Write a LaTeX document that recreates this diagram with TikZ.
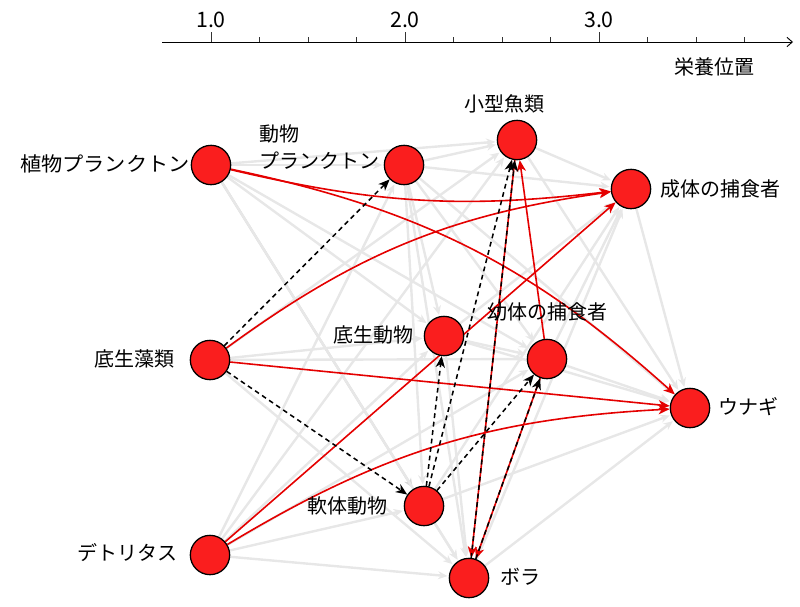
\documentclass[tikz,border=0pt]{standalone}
\usepackage{fontspec}
\newfontfamily\jpfont{Noto Sans CJK JP}
\usetikzlibrary{arrows.meta,backgrounds}
\definecolor{nodered}{RGB}{250,30,30}
\definecolor{edgered}{RGB}{228,0,0}
\definecolor{webgray}{RGB}{231,231,231}
\definecolor{webdark}{RGB}{215,215,215}
\begin{document}
\begin{tikzpicture}[x=0.75pt,y=-0.75pt,
  sp/.style={circle,draw=black,line width=0.95pt,fill=nodered,minimum size=29.5pt,inner sep=0pt},
  lbl/.style={font=\jpfont\fontsize{15}{20}\selectfont,inner sep=0pt,text=black},
  num/.style={font=\jpfont\fontsize{16}{20}\selectfont,inner sep=0pt,text=black},
  web/.style={draw=webgray,line width=1.8pt,-{Stealth[length=7pt,width=6pt]},shorten >=1pt},
  webd/.style={web,draw=webdark},
  hot/.style={draw=edgered,line width=1.2pt,-{Stealth[length=8.5pt,width=7pt,inset=2.5pt]}},
  dsh/.style={draw=black,line width=1.15pt,dash pattern=on 3.6pt off 2.8pt,-{Stealth[length=8.5pt,width=7pt,inset=2.5pt]}},
  axisline/.style={draw=black,line width=0.7pt,-{Straight Barb[length=4pt,width=7pt]}},
  tickmark/.style={draw=black!80,line width=0.6pt}
]
\useasboundingbox (0,0) rectangle (800,607);

% axis
\coordinate (ax0) at (162,42);
\coordinate (ax1) at (793,42);
\draw[axisline] (ax0) -- (ax1);
\foreach \k in {0,...,11} {
  \draw[tickmark] ({211+48.5*\k},42) -- ({211+48.5*\k},37);
}
\foreach \k in {0,4,8} {
  \draw[tickmark] ({211+48.5*\k},42) -- ({211+48.5*\k},32);
}
\node[num] (n1) at (211,20) {1.0};
\node[num] (n2) at (405,20) {2.0};
\node[num] (n3) at (599,20) {3.0};
\node[lbl] (tAx) at (714,67) {栄養位置};

% species nodes
\node[sp] (P)  at (211,165) {};
\node[sp] (Z)  at (404,165) {};
\node[sp] (S)  at (517,140) {};
\node[sp] (A)  at (631,189) {};
\node[sp] (B)  at (210,360) {};
\node[sp] (BA) at (444,336) {};
\node[sp] (J)  at (547,359) {};
\node[sp] (E)  at (690,408) {};
\node[sp] (M)  at (424,506) {};
\node[sp] (D)  at (210,555) {};
\node[sp] (L)  at (469,578) {};

% labels
\node[lbl,anchor=east,xscale=1.06] (tP) at (190,164) {植物プランクトン};
\node[lbl,anchor=west,align=left] (tZ) at (259,147) {動物\\プランクトン};
\node[lbl] (tS) at (504,104) {小型魚類};
\node[lbl,anchor=west] (tA) at (660,189) {成体の捕食者};
\node[lbl,anchor=east] (tB) at (175,359) {底生藻類};
\node[lbl,anchor=east] (tBA) at (414,335) {底生動物};
\node[lbl] (tJ) at (547,312) {幼体の捕食者};
\node[lbl,anchor=west] (tE) at (718,407) {ウナギ};
\node[lbl,anchor=east] (tM) at (388,506) {軟体動物};
\node[lbl,anchor=east] (tD) at (178,553) {デトリタス};
\node[lbl,anchor=west] (tL) at (500,577) {ボラ};

\begin{scope}[on background layer]
% gray food web
\draw[web] (P) -- (Z);
\draw[web] (P) -- (S);
\draw[web] (P) -- (BA);
\draw[web] (P) -- (J);
\draw[webd] (P) -- (M);
\draw[web] (P) -- (L);
\draw[web] (Z) -- (S);
\draw[web] (Z) -- (A);
\draw[web] (Z) -- (BA);
\draw[web] (Z) -- (J);
\draw[web] (Z) -- (M);
\draw[web] (Z) -- (L);
\draw[web] (Z) -- (E);
\draw[web] (B) -- (S);
\draw[web] (B) -- (BA);
\draw[web] (B) -- (J);
\draw[web] (B) -- (L);
\draw[web] (D) -- (Z);
\draw[web] (D) -- (S);
\draw[web] (D) -- (BA);
\draw[web] (D) -- (M);
\draw[web] (D) -- (L);
\draw[web] (D) -- (J);
\draw[web] (BA) -- (J);
\draw[web] (BA) -- (A);
\draw[web] (BA) -- (E);
\draw[web] (BA) -- (L);
\draw[web] (M) -- (L);
\draw[web] (M) -- (A);
\draw[web] (M) -- (E);
\draw[web] (J) -- (A);
\draw[web] (J) -- (E);
\draw[web] (S) -- (A);
\draw[web] (S) -- (E);
\draw[web] (L) -- (A);
\draw[web] (L) -- (E);
\draw[web] (A) -- (E);

% highlighted (red) links
\draw[hot] (P) to[bend right=10] (A);
\draw[hot] (P) to[bend left=15] (E);
\draw[hot] (B) to[bend left=14] (A);
\draw[hot] (B) -- (E);
\draw[hot] (D) -- (A);
\draw[hot] (D) to[bend left=14] (E);
\draw[hot] (J) -- (S);
\draw[hot] (S) -- (L);
\draw[hot] (J) -- (L);

% dashed links
\draw[dsh] (B) -- (Z);
\draw[dsh] (B) -- (M);
\draw[dsh] (M) -- (BA);
\draw[dsh] (M) -- (S);
\draw[dsh] (M) -- (J);
\draw[dsh] (L) -- (S);
\draw[dsh] (L) -- (J);
\end{scope}
\end{tikzpicture}
\end{document}
